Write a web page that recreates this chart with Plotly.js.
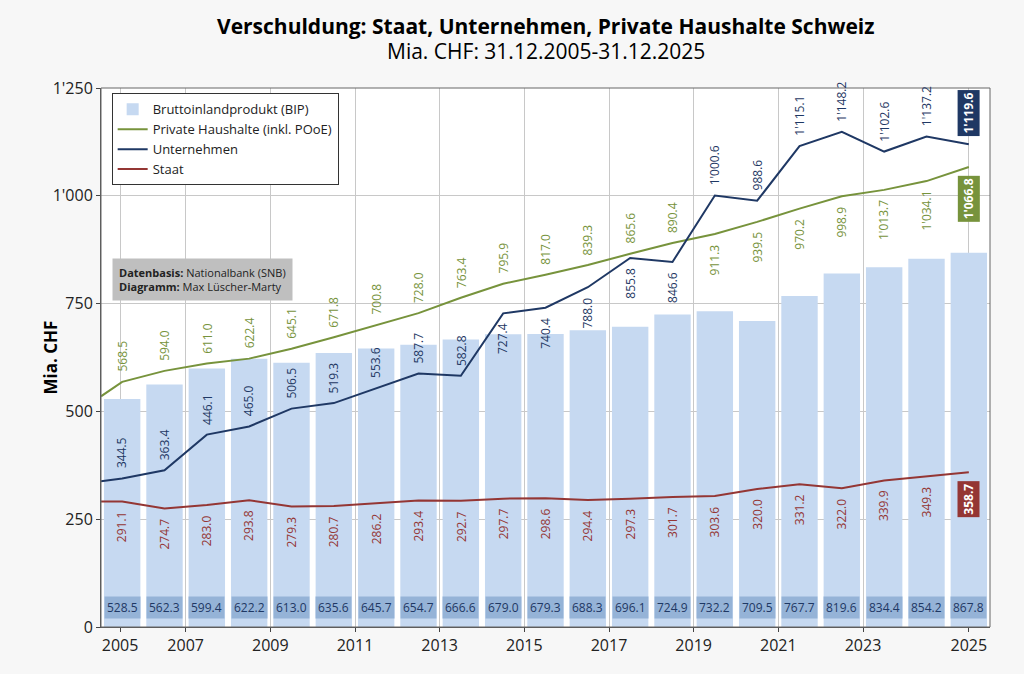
<!DOCTYPE html>
<html><head><meta charset="utf-8">
<script src="https://cdn.plot.ly/plotly-3.0.1.min.js"></script>
<style>body{margin:0}#c{width:1024px;height:674px}</style>
</head><body><div id="c"></div>
<script>
var years = [2005,2006,2007,2008,2009,2010,2011,2012,2013,2014,2015,2016,2017,2018,2019,2020,2021,2022,2023,2024,2025];
var bip = [528.5,562.3,599.4,622.2,613.0,635.6,645.7,654.7,666.6,679.0,679.3,688.3,696.1,724.9,732.2,709.5,767.7,819.6,834.4,854.2,867.8];
var privat = [568.5,594.0,611.0,622.4,645.1,671.8,700.8,728.0,763.4,795.9,817.0,839.3,865.6,890.4,911.3,939.5,970.2,998.9,1013.7,1034.1,1066.8];
var unternehmen = [344.5,363.4,446.1,465.0,506.5,519.3,553.6,587.7,582.8,727.4,740.4,788.0,855.8,846.6,1000.6,988.6,1115.1,1148.2,1102.6,1137.2,1119.6];
var staat = [291.1,274.7,283.0,293.8,279.3,280.7,286.2,293.4,292.7,297.7,298.6,294.4,297.3,301.7,303.6,320.0,331.2,322.0,339.9,349.3,358.7];
// values at the left edge (start of 2005)
var startVals = {privat: 535, unternehmen: 338, staat: 291};
var tickYears = [2005,2007,2009,2011,2013,2015,2017,2019,2021,2023,2025];

var NAVY = '#1f3864', GREEN = '#77933c', RED = '#943634';
var xs = years.map(function (y) { return y + 0.5; });
var xl = [2005].concat(xs);

function fmt(v) {
  var s = v.toFixed(1), p = s.split('.');
  var i = p[0];
  if (i.length > 3) i = i.slice(0, i.length - 3) + "'" + i.slice(-3);
  return i + '.' + p[1];
}

var data = [
  {type: 'bar', x: xs, y: bip, name: 'Bruttoinlandprodukt (BIP)', width: 0.86,
   marker: {color: '#c6d9f1'}},
  {type: 'scatter', mode: 'lines', x: xl, y: [startVals.privat].concat(privat),
   name: 'Private Haushalte (inkl. POoE)', line: {color: GREEN, width: 2}},
  {type: 'scatter', mode: 'lines', x: xl, y: [startVals.unternehmen].concat(unternehmen),
   name: 'Unternehmen', line: {color: NAVY, width: 2}},
  {type: 'scatter', mode: 'lines', x: xl, y: [startVals.staat].concat(staat),
   name: 'Staat', line: {color: RED, width: 2}}
];

var ann = [];
var last = years.length - 1;
var uBelow = [9, 10, 11, 12, 13];
var pBelow = 14; // from 2019 on, private labels sit below the line
years.forEach(function (y, i) {
  ann.push({x: xs[i], y: 45, text: fmt(bip[i]), showarrow: false,
    font: {size: 12, color: NAVY}, bgcolor: '#95b3d7', borderpad: 2});
  if (i === last) return;
  var pb = i >= pBelow;
  ann.push({x: xs[i], y: privat[i], text: fmt(privat[i]), showarrow: false, textangle: -90,
    yanchor: pb ? 'top' : 'bottom', yshift: pb ? -8 : 8, font: {size: 12, color: GREEN}});
  var below = uBelow.indexOf(i) >= 0;
  ann.push({x: xs[i], y: unternehmen[i], text: fmt(unternehmen[i]), showarrow: false, textangle: -90,
    yanchor: below ? 'top' : 'bottom', yshift: below ? -8 : 8, font: {size: 12, color: NAVY}});
  ann.push({x: xs[i], y: staat[i], text: fmt(staat[i]), showarrow: false, textangle: -90,
    yanchor: 'top', yshift: -8, font: {size: 12, color: RED}});
});
ann.push({x: xs[last], y: unternehmen[last], text: '<b>' + fmt(unternehmen[last]) + '</b>', showarrow: false,
  textangle: -90, yanchor: 'bottom', yshift: 8, font: {size: 12, color: 'white'}, bgcolor: NAVY, borderpad: 2});
ann.push({x: xs[last], y: privat[last], text: '<b>' + fmt(privat[last]) + '</b>', showarrow: false,
  textangle: -90, yanchor: 'top', yshift: -8, font: {size: 12, color: 'white'}, bgcolor: GREEN, borderpad: 2});
ann.push({x: xs[last], y: staat[last], text: '<b>' + fmt(staat[last]) + '</b>', showarrow: false,
  textangle: -90, yanchor: 'top', yshift: -8, font: {size: 12, color: 'white'}, bgcolor: RED, borderpad: 2});
ann.push({xref: 'paper', yref: 'paper', x: 0.012, y: 0.685, xanchor: 'left', yanchor: 'top', align: 'left',
  text: '<b>Datenbasis:</b> Nationalbank (SNB)<br><b>Diagramm:</b> Max Lüscher-Marty',
  showarrow: false, font: {size: 11, color: '#222'}, bgcolor: '#bfbfbf', borderpad: 6});
ann.push({xref: 'paper', yref: 'paper', x: 0.5, y: 1, yshift: 62, yanchor: 'middle', showarrow: false,
  text: '<b>Verschuldung: Staat, Unternehmen, Private Haushalte Schweiz</b>', font: {size: 21, color: '#000'}});
ann.push({xref: 'paper', yref: 'paper', x: 0.5, y: 1, yshift: 37, yanchor: 'middle', showarrow: false,
  text: 'Mia. CHF: 31.12.2005-31.12.2025', font: {size: 21, color: '#000'}});

var tv = tickYears.slice();
tv[0] = 2005.45; tv[tv.length - 1] = 2025.5;

var layout = {
  width: 1024, height: 674,
  paper_bgcolor: '#f7f7f7', plot_bgcolor: 'white',
  font: {family: 'Open Sans, sans-serif', size: 13, color: '#222'},
  margin: {l: 101, r: 34, t: 88, b: 47},
  showlegend: true,
  legend: {x: 0.012, y: 0.99, xanchor: 'left', yanchor: 'top', bgcolor: 'white',
    bordercolor: '#333', borderwidth: 1, font: {size: 13}, traceorder: 'normal'},
  bargap: 0.1,
  xaxis: {range: [2005, 2026], tickvals: tv, ticktext: tickYears.map(String),
    showgrid: true, gridcolor: '#c8c8c8', ticks: 'outside', ticklen: 4,
    showline: true, linecolor: '#555', tickfont: {size: 16}},
  yaxis: {range: [0, 1250], tickvals: [0, 250, 500, 750, 1000, 1250],
    ticktext: ['0', '250', '500', '750', "1'000", "1'250"],
    gridcolor: '#c8c8c8', showline: true, linecolor: '#555', ticks: 'outside', ticklen: 4,
    tickfont: {size: 16}, title: {text: '<b>Mia. CHF</b>', font: {size: 17, color: '#000'}}},
  annotations: ann,
  shapes: [{type: 'rect', xref: 'paper', yref: 'paper', x0: 0, x1: 1, y0: 0, y1: 1, line: {color: '#666', width: 1}}]
};

Plotly.newPlot('c', data, layout, {displayModeBar: false});
</script></body></html>
